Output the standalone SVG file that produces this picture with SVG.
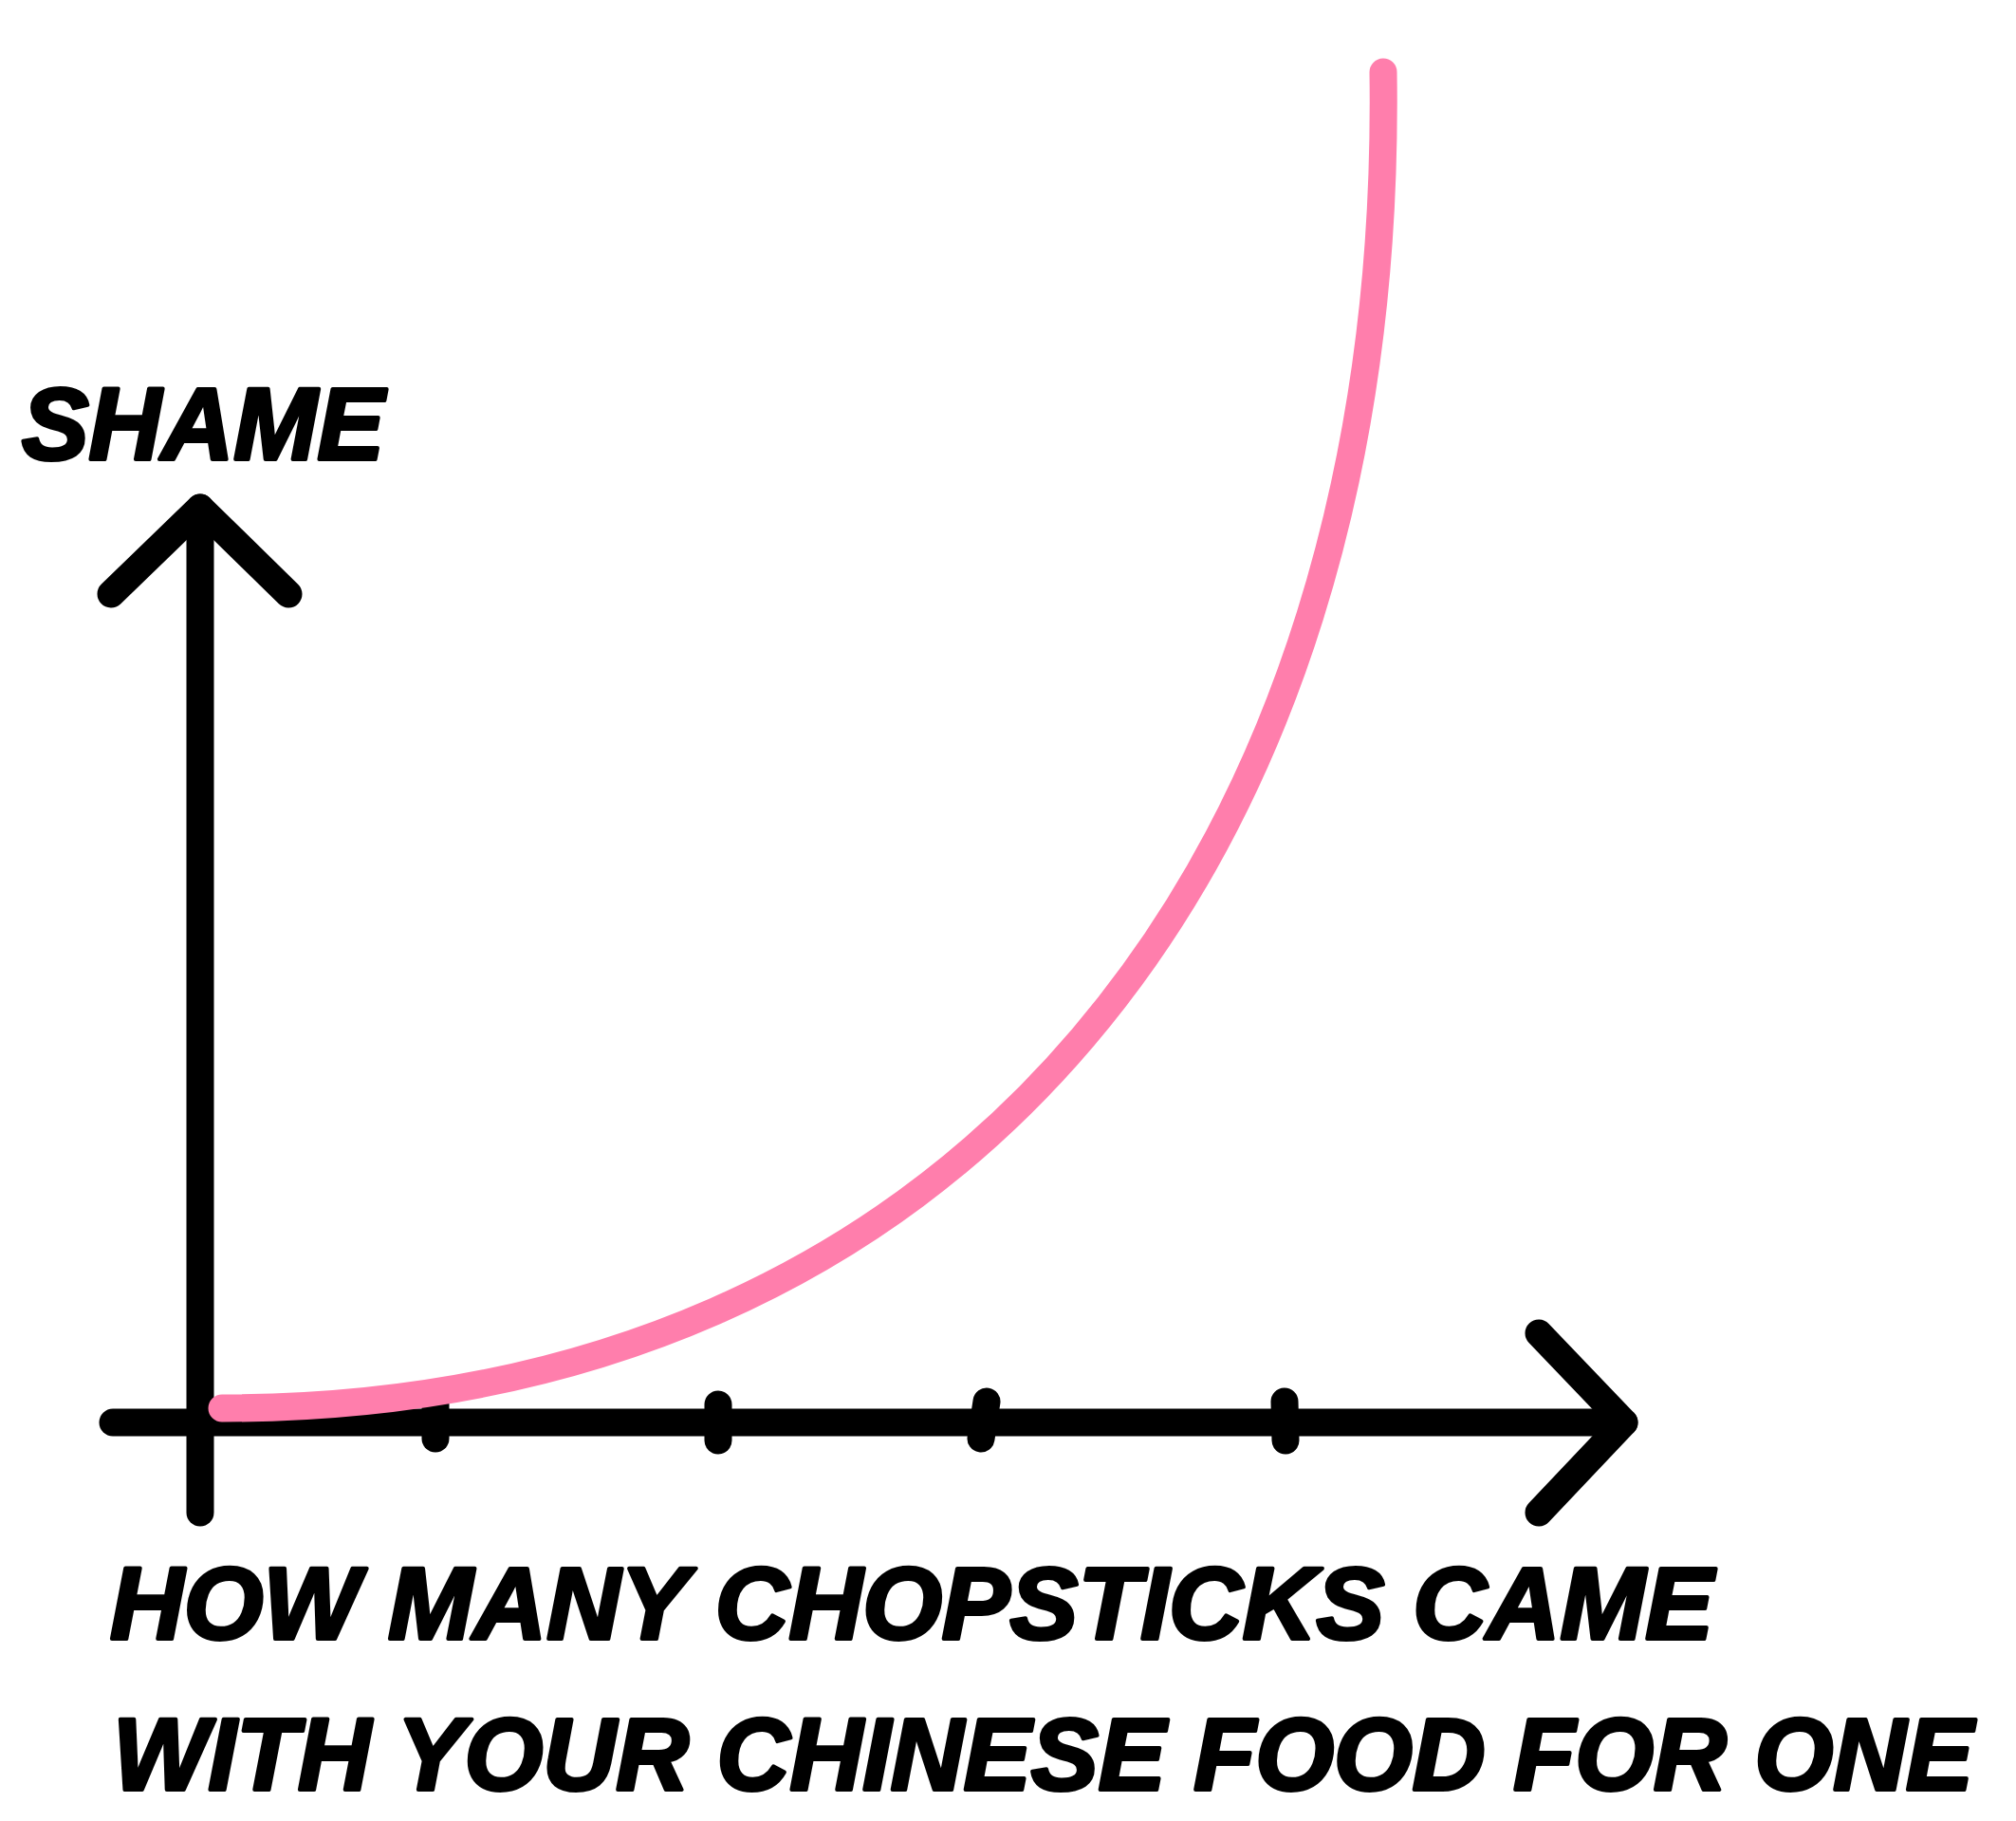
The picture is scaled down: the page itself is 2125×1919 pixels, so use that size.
<svg xmlns="http://www.w3.org/2000/svg" width="2125" height="1919" viewBox="0 0 2125 1919">
  <style>
    .ax { fill: none; stroke: #000; stroke-width: 29; stroke-linecap: round; stroke-linejoin: round; }
    .curve { fill: none; stroke: #ff7eac; stroke-width: 29; stroke-linecap: round; stroke-linejoin: round; }
    .lbl { font-family: "Liberation Sans", Arial, sans-serif; font-weight: bold; font-style: italic; font-size: 108px; fill: #000; stroke: #000; stroke-width: 4; stroke-linejoin: round; }
  </style>
  <rect x="0" y="0" width="2125" height="1919" fill="#fff"/>
  <g id="connectors">
    <g id="y-axis">
      <line class="ax" x1="211" y1="535" x2="211" y2="1594"/>
      <polyline class="ax" points="117,626 211,535 304,626"/>
    </g>
    <g id="x-axis">
      <line class="ax" x1="119" y1="1499" x2="1712" y2="1499"/>
      <polyline class="ax" points="1622,1405 1712,1499 1622,1594"/>
    </g>
    <g id="ticks">
      <line class="ax" x1="459" y1="1474" x2="459" y2="1516"/>
      <line class="ax" x1="757" y1="1480" x2="757" y2="1518"/>
      <line class="ax" x1="1040" y1="1477" x2="1034" y2="1516"/>
      <line class="ax" x1="1354" y1="1477" x2="1355" y2="1518"/>
    </g>
    <path id="shame-curve" class="curve" d="M234,1484 C1009,1484 1470,913 1458,76"/>
  </g>
  <g id="y-label">
    <text class="lbl" x="23" y="484" textLength="382" lengthAdjust="spacingAndGlyphs">SHAME</text>
  </g>
  <g id="x-label">
    <text class="lbl" x="116" y="1727" textLength="1690" lengthAdjust="spacingAndGlyphs">HOW MANY CHOPSTICKS CAME</text>
    <text class="lbl" x="119" y="1886" textLength="1961" lengthAdjust="spacingAndGlyphs">WITH YOUR CHINESE FOOD FOR ONE</text>
  </g>
</svg>
